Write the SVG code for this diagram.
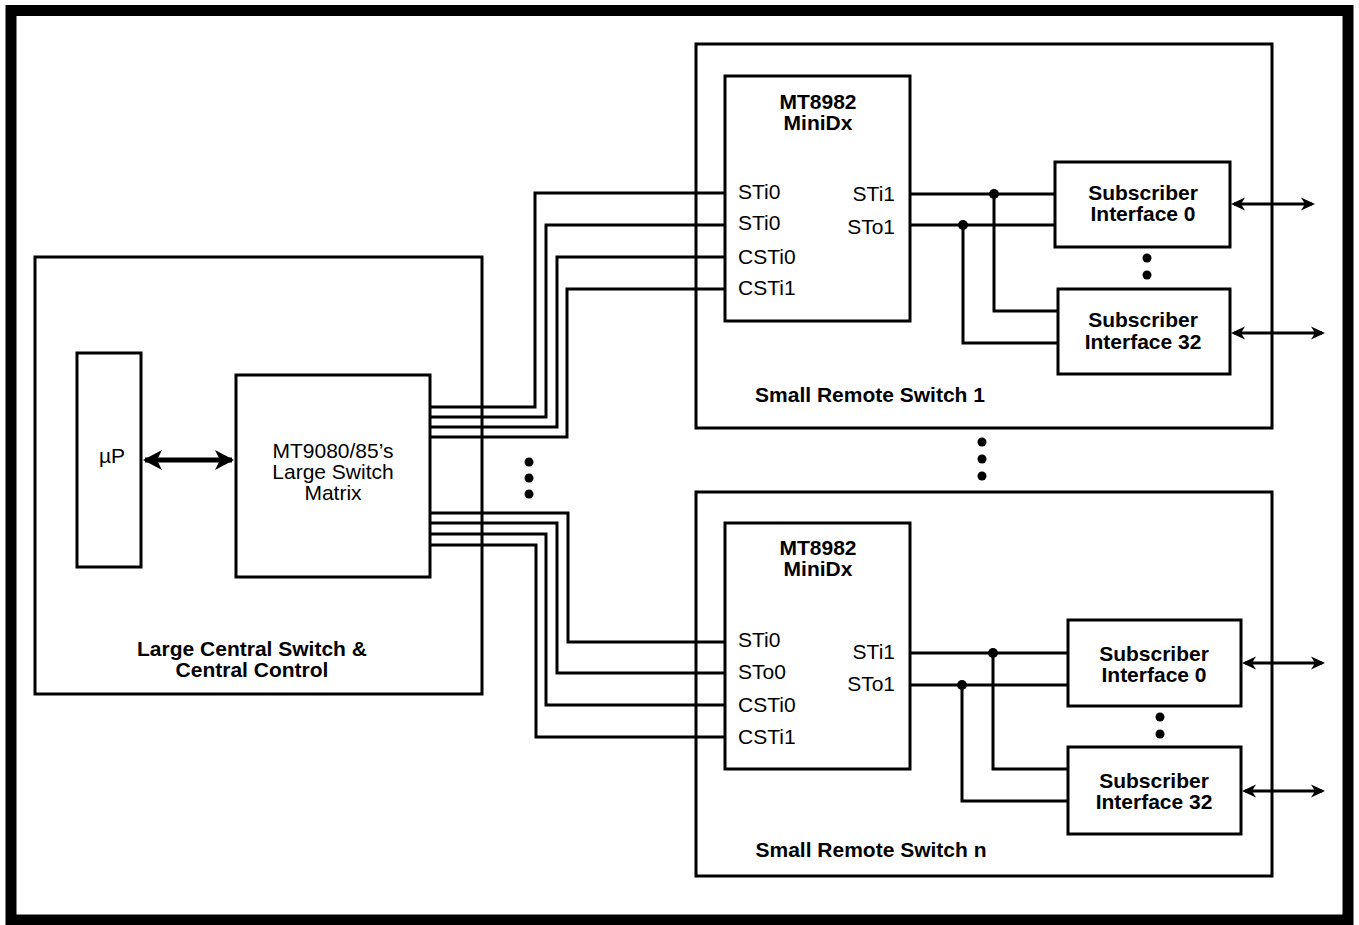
<svg xmlns="http://www.w3.org/2000/svg" width="1359" height="925" viewBox="0 0 1359 925">
<style>
.box{fill:#fff;stroke:#000;stroke-width:3}
.wire{fill:none;stroke:#000;stroke-width:3}
.t{font-family:"Liberation Sans",Arial,Helvetica,sans-serif;font-size:21px;fill:#000}
.b{font-weight:bold}
.m{text-anchor:middle}
.e{text-anchor:end}
</style>
<defs>
<marker id="ah" viewBox="-16 -8 20 16" refX="0" refY="0" markerWidth="20" markerHeight="16" markerUnits="userSpaceOnUse" orient="auto-start-reverse">
<path d="M3,0 L-11,-6.5 L-7,0 L-11,6.5 Z" fill="#000"/>
</marker>
<marker id="ahb" viewBox="-20 -12 24 24" refX="0" refY="0" markerWidth="24" markerHeight="24" markerUnits="userSpaceOnUse" orient="auto-start-reverse">
<path d="M2,0 L-17,-10 L-12,0 L-17,10 Z" fill="#000"/>
</marker>
</defs>
<rect x="0" y="0" width="1359" height="925" fill="#fff"/>
<rect x="11" y="10.5" width="1337" height="909.5" fill="none" stroke="#000" stroke-width="11"/>

<g id="central">
<rect class="box" x="35" y="257" width="447" height="437"/>
<text class="t b m" x="252" y="655.5">Large Central Switch &amp;</text>
<text class="t b m" x="252" y="676.5">Central Control</text>
</g>
<g id="up">
<rect class="box" x="77" y="353" width="64" height="214"/>
<text class="t m" x="112" y="463">µP</text>
</g>
<g id="matrix">
<rect class="box" x="236" y="375" width="194" height="202"/>
<text class="t m" x="333" y="457.5">MT9080/85’s</text>
<text class="t m" x="333" y="478.5">Large Switch</text>
<text class="t m" x="333" y="499.5">Matrix</text>
</g>

<g id="remote1">
<rect class="box" x="696" y="44" width="576" height="384"/>
<text class="t b m" x="870" y="401.5">Small Remote Switch 1</text>
</g>
<g id="minidx1">
<rect class="box" x="725" y="76" width="185" height="245"/>
<text class="t b m" x="818" y="108.5">MT8982</text>
<text class="t b m" x="818" y="129.5">MiniDx</text>
<text class="t" x="738" y="198.5">STi0</text>
<text class="t" x="738" y="230">STi0</text>
<text class="t" x="738" y="263.5">CSTi0</text>
<text class="t" x="738" y="295">CSTi1</text>
<text class="t e" x="895" y="201">STi1</text>
<text class="t e" x="895" y="233.5">STo1</text>
</g>
<g id="sub0a">
<rect class="box" x="1055" y="162" width="175" height="85"/>
<text class="t b m" x="1143" y="200">Subscriber</text>
<text class="t b m" x="1143" y="221">Interface 0</text>
</g>
<g id="sub32a">
<rect class="box" x="1058" y="289" width="172" height="85"/>
<text class="t b m" x="1143" y="327">Subscriber</text>
<text class="t b m" x="1143" y="349">Interface 32</text>
</g>

<g id="remoten">
<rect class="box" x="696" y="492" width="576" height="384"/>
<text class="t b m" x="871" y="856.5">Small Remote Switch n</text>
</g>
<g id="minidxn">
<rect class="box" x="725" y="523" width="185" height="246"/>
<text class="t b m" x="818" y="555">MT8982</text>
<text class="t b m" x="818" y="576">MiniDx</text>
<text class="t" x="738" y="646.5">STi0</text>
<text class="t" x="738" y="679">STo0</text>
<text class="t" x="738" y="712">CSTi0</text>
<text class="t" x="738" y="744">CSTi1</text>
<text class="t e" x="895" y="659">STi1</text>
<text class="t e" x="895" y="690.5">STo1</text>
</g>
<g id="sub0n">
<rect class="box" x="1068" y="620" width="173" height="86"/>
<text class="t b m" x="1154" y="660.5">Subscriber</text>
<text class="t b m" x="1154" y="681.5">Interface 0</text>
</g>
<g id="sub32n">
<rect class="box" x="1068" y="747" width="173" height="87"/>
<text class="t b m" x="1154" y="787.5">Subscriber</text>
<text class="t b m" x="1154" y="809">Interface 32</text>
</g>

<g id="connectors">
<line x1="145" y1="460" x2="232" y2="460" stroke="#000" stroke-width="5" marker-start="url(#ahb)" marker-end="url(#ahb)"/>
<path class="wire" d="M430,407 H535 V193 H725"/>
<path class="wire" d="M430,417 H546 V225 H725"/>
<path class="wire" d="M430,427 H557 V257 H725"/>
<path class="wire" d="M430,437 H567 V289 H725"/>
<path class="wire" d="M430,513 H568 V642 H725"/>
<path class="wire" d="M430,523 H557 V673 H725"/>
<path class="wire" d="M430,534 H546 V705 H725"/>
<path class="wire" d="M430,545 H536 V737 H725"/>

<path class="wire" d="M910,194 H1055"/>
<path class="wire" d="M910,225 H1055"/>
<path class="wire" d="M994,194 V311 H1058"/>
<path class="wire" d="M963,225 V343 H1058"/>
<circle cx="994" cy="194" r="5"/>
<circle cx="963" cy="225" r="5"/>

<path class="wire" d="M910,653 H1068"/>
<path class="wire" d="M910,685 H1068"/>
<path class="wire" d="M993,653 V769 H1068"/>
<path class="wire" d="M962,685 V801 H1068"/>
<circle cx="993" cy="653" r="5"/>
<circle cx="962" cy="685" r="5"/>

<line class="wire" x1="1234" y1="204" x2="1312" y2="204" marker-start="url(#ah)" marker-end="url(#ah)"/>
<line class="wire" x1="1234" y1="333" x2="1322" y2="333" marker-start="url(#ah)" marker-end="url(#ah)"/>
<line class="wire" x1="1245" y1="663" x2="1322" y2="663" marker-start="url(#ah)" marker-end="url(#ah)"/>
<line class="wire" x1="1245" y1="791" x2="1322" y2="791" marker-start="url(#ah)" marker-end="url(#ah)"/>
</g>

<g id="ellipses">
<circle cx="529" cy="462" r="4.5"/>
<circle cx="529" cy="478" r="4.5"/>
<circle cx="529" cy="494" r="4.5"/>
<circle cx="982" cy="442" r="4.5"/>
<circle cx="982" cy="459" r="4.5"/>
<circle cx="982" cy="476" r="4.5"/>
<circle cx="1147" cy="258" r="4.5"/>
<circle cx="1147" cy="275" r="4.5"/>
<circle cx="1160" cy="717" r="4.5"/>
<circle cx="1160" cy="734" r="4.5"/>
</g>
</svg>
